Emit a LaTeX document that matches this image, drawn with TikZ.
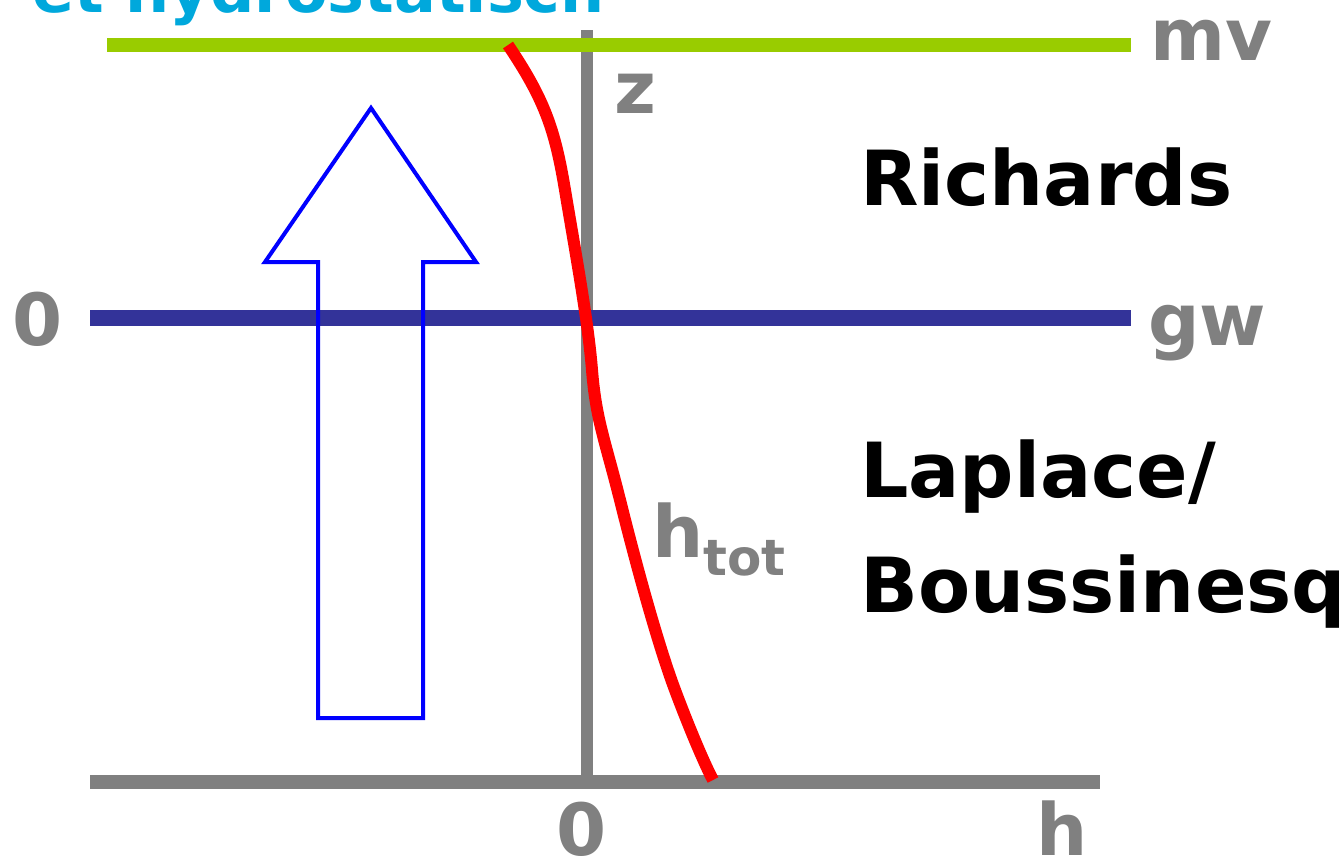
\documentclass[tikz,border=0pt]{standalone}
\usepackage{fontspec}
\setmainfont{DejaVu Sans}
\definecolor{mvgreen}{HTML}{99CC00}
\definecolor{gwblue}{HTML}{333399}
\definecolor{axgray}{HTML}{808080}
\definecolor{titlecyan}{HTML}{00A8DC}
\definecolor{arrblue}{HTML}{0000FF}
\begin{document}
\begin{tikzpicture}[x=1pt,y=-1pt,
  lbl/.style={inner sep=0pt,font=\bfseries\fontsize{72}{72}\selectfont,text=axgray},
  big/.style={inner sep=0pt,font=\bfseries\fontsize{76}{76}\selectfont,text=black},
  axis/.style={draw=axgray,line width=12pt}]
\useasboundingbox (0,0) rectangle (1343,863);
\clip (0,0) rectangle (1343,863);
% title (cut off at the top edge, as in the reference)
\node[inner sep=0pt,anchor=base east,font=\bfseries\fontsize{62}{62}\selectfont,text=titlecyan] (title) at (605,12) {et hydrostatisch};
% coordinates
\coordinate (mvL) at (107,45); \coordinate (mvR) at (1131,45);
\coordinate (gwL) at (90,318); \coordinate (gwR) at (1131,318);
\coordinate (zB) at (587,782); \coordinate (zT) at (587,30);
\coordinate (hL) at (90,782); \coordinate (hR) at (1100,782);
% axes
\draw[axis] (zB) -- (zT);
\draw[axis,line width=14pt] (hL) -- (hR);
\draw[draw=gwblue,line width=16pt] (gwL) -- (gwR);
\draw[draw=mvgreen,line width=14pt] (mvL) -- (mvR);
% arrow
\draw[arrblue,line width=4pt,line join=miter] (371,108) -- (476,262) -- (423,262) -- (423,718) -- (318,718) -- (318,262) -- (265,262) -- cycle;
% htot curve
\draw[red,line width=12pt] (508,45) .. controls (545,100) and (555,130) .. (565,190)
  .. controls (575,250) and (588,320) .. (592,370)
  .. controls (596,420) and (605,440) .. (620,500)
  .. controls (640,580) and (660,650) .. (675,690)
  .. controls (690,730) and (705,765) .. (713,780);
% labels
\node[lbl,anchor=base] (z) at (635,113) {z};
\node[lbl,anchor=base west] (mv) at (1150,60) {mv};
\node[lbl,anchor=base west] (gw) at (1148,345) {gw};
\node[lbl,anchor=base] (zero1) at (38,345) {0};
\node[lbl,anchor=base] (zero2) at (582,855) {0};
\node[lbl,anchor=base] (h) at (1062,855) {h};
\node[lbl,anchor=base west] (htot) at (652,557) {h\raisebox{-0.25em}{\fontsize{50}{50}\selectfont tot}};
\node[big,anchor=base west] (rich) at (860,205) {Richards};
\node[big,anchor=base west] (lap) at (860,497) {Laplace/};
\node[big,anchor=base west] (bou) at (860,612) {Boussinesq};
\end{tikzpicture}
\end{document}
